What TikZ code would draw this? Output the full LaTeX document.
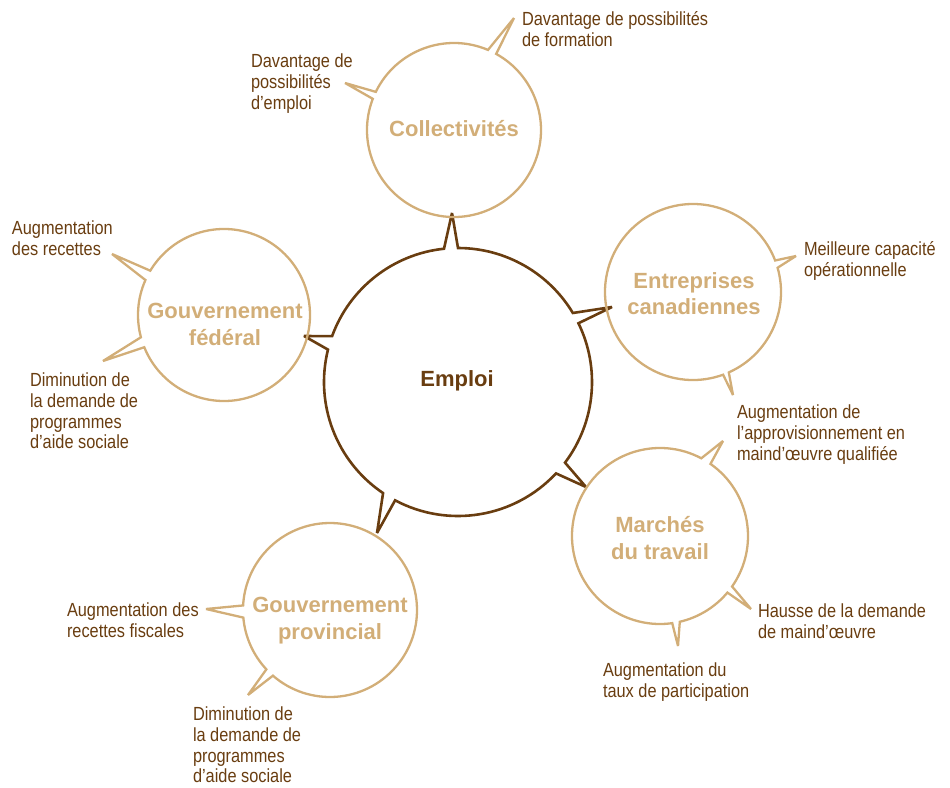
\documentclass[tikz,border=0pt]{standalone}
\usepackage{fontspec}
\setmainfont{Liberation Sans}
\newfontfamily\condfont[FakeStretch=0.86]{Liberation Sans}
\definecolor{darkbrown}{RGB}{105,61,16}
\definecolor{lighttan}{RGB}{210,174,120}

\begin{document}
\begin{tikzpicture}[x=1pt, y=1pt,
  every node/.style={inner sep=0pt, outer sep=0pt},
  bub/.style={circle, minimum size=#1},
  title/.style={font=\bfseries\fontsize{22}{26.5}\selectfont, align=center, text=lighttan},
  txt/.style={font=\condfont\fontsize{19}{20.7}\selectfont, align=left, text=darkbrown, anchor=north west},
  outer/.style={draw=lighttan, line width=2.3pt, miter limit=2},
  inner/.style={draw=darkbrown, line width=2.6pt, miter limit=2}]
\useasboundingbox (0,0) rectangle (950,-787);

% Bubbles (centre first, then clockwise from the top)
\node[bub=268pt] (emp) at (458,-382) {};
\node[bub=174pt] (col) at (454,-130) {};
\node[bub=176pt] (ent) at (693,-292) {};
\node[bub=176pt] (mar) at (660,-536) {};
\node[bub=174pt] (prov) at (330,-610) {};
\node[bub=172pt] (fed) at (224,-315) {};

% Centre bubble with five tails
\draw[inner] (emp.31) arc[start angle=31, end angle=90, radius=134] -- (452,-213)
  -- (emp.96) arc[start angle=96, end angle=160, radius=134] -- (304,-336)
  -- (emp.166) arc[start angle=166, end angle=236, radius=134] -- (377,-533)
  -- (emp.242) arc[start angle=242, end angle=317, radius=134] -- (586,-487)
  -- (emp.323) arc[start angle=323, end angle=386, radius=134] -- (612,-307) -- cycle;

% Outer bubbles
\draw[outer] (col.67) arc[start angle=67, end angle=154, radius=87] -- (345,-83)
  -- (col.159) arc[start angle=159, end angle=421, radius=87] -- (514,-18) -- cycle;
\draw[outer] (ent.21) arc[start angle=21, end angle=290, radius=88] -- (733,-395)
  -- (ent.294) arc[start angle=294, end angle=376, radius=88] -- (796,-256) -- cycle;
\draw[outer] (mar.62) arc[start angle=62, end angle=278, radius=88] -- (678,-646)
  -- (mar.283) arc[start angle=283, end angle=320, radius=88] -- (751,-609)
  -- (mar.325) arc[start angle=325, end angle=415, radius=88] -- (723,-441) -- cycle;
\draw[outer] (prov.185) arc[start angle=185, end angle=223, radius=87] -- (248,-695)
  -- (prov.229) arc[start angle=229, end angle=537, radius=87] -- (206,-609) -- cycle;
\draw[outer] (fed.202) arc[start angle=202, end angle=509, radius=86] -- (112,-254)
  -- (fed.156) arc[start angle=156, end angle=195, radius=86] -- (103,-361) -- cycle;

% Titles
\node[title, text=darkbrown] (empt) at (457,-380.5) {Emploi};
\node[title] (colt) at (454,-128.7) {Collectivités};
\node[title] (entt) at (694,-293.5) {Entreprises\\canadiennes};
\node[title] (mart) at (660,-538) {Marchés\\du travail};
\node[title] (provt) at (330,-620.7) {Gouvernement\\provincial};
\node[title] (fedt) at (225,-324.5) {Gouvernement\\fédéral};

% Labels
\node[txt] (form) at (522,-12) {Davantage de possibilités\\de formation};
\node[txt] (dempl) at (251,-54) {Davantage de\\possibilités\\d’emploi};
\node[txt] (capa) at (804,-241.6) {Meilleure capacité\\opérationnelle};
\node[txt] (appro) at (737,-405) {Augmentation de\\l’approvisionnement en\\maind’œuvre qualifiée};
\node[txt] (hausse) at (758,-604) {Hausse de la demande\\de maind’œuvre};
\node[txt] (taux) at (603,-663) {Augmentation du\\taux de participation};
\node[txt] (fisc) at (67,-603) {Augmentation des\\recettes fiscales};
\node[txt] (dimprov) at (193,-707) {Diminution de\\la demande de\\programmes\\d’aide sociale};
\node[txt] (recet) at (12,-221) {Augmentation\\des recettes};
\node[txt] (dimfed) at (30,-373) {Diminution de\\la demande de\\programmes\\d’aide sociale};
\end{tikzpicture}
\end{document}
